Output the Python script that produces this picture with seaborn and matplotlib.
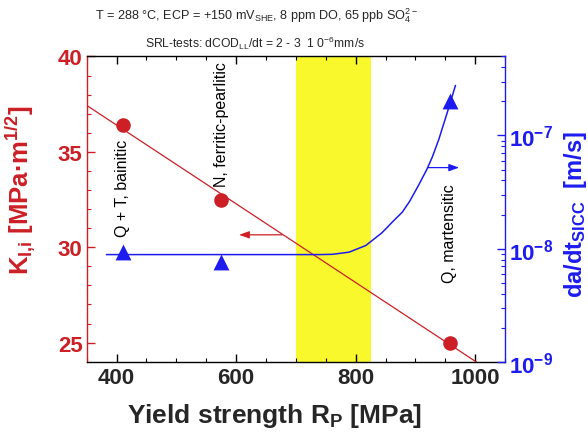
import numpy as np
import pandas as pd
import matplotlib
matplotlib.use("Agg")
import matplotlib.pyplot as plt
import seaborn as sns

# ---- data ----
yield_strength = [410, 575, 957]            # MPa
k_values = [36.4, 32.5, 25.0]               # K_I,i [MPa m^1/2]
rate_values = [9.35e-9, 7.6e-9, 2.0e-7]     # da/dt_SICC [m/s]
microstructure = ["Q + T, bainitic", "N, ferritic-pearlitic", "Q, martensitic"]
label_y = [30.6, 33.2, 28.2]

curve_x = [383, 500, 600, 700, 740, 761, 789, 817, 825, 844, 861, 878, 890,
           905, 919, 928, 939, 953, 967]
curve_y = [8.85e-9, 8.85e-9, 8.85e-9, 8.85e-9, 8.85e-9, 8.9e-9, 9.3e-9, 1.065e-8,
           1.15e-8, 1.38e-8, 1.71e-8, 2.10e-8, 2.6e-8, 3.61e-8, 5.0e-8,
           6.4e-8, 9.2e-8, 1.58e-7, 2.77e-7]

band = [700, 825]
fit_range = [352, 1020]

RED = "#cc1f26"
BLUE = "#1c1cf0"
YELLOW = "#f8f82c"

sns.set_theme(style="ticks")
plt.rcParams['font.family'] = ['Liberation Sans', 'DejaVu Sans']
plt.rcParams['mathtext.default'] = 'regular'

fig = plt.figure(figsize=(5.88, 4.35), dpi=100)
ax = fig.add_axes([0.1474, 0.1662, 0.859 - 0.1474, 0.868 - 0.1662])
ax2 = ax.twinx()

df = pd.DataFrame({"Rp": yield_strength, "K": k_values, "rate": rate_values})

ax.axvspan(band[0], band[1], color=YELLOW, lw=0, zorder=0)

coef = np.polyfit(yield_strength, k_values, 1)
fx = np.array(fit_range, dtype=float)
sns.lineplot(x=fx, y=np.polyval(coef, fx), ax=ax, color=RED, lw=0.9, zorder=3)
sns.scatterplot(data=df, x="Rp", y="K", ax=ax, color=RED, s=110, marker="o",
                edgecolor=RED, linewidth=0, zorder=4)

sns.lineplot(x=curve_x, y=curve_y, ax=ax2, color=BLUE, lw=1.1, sort=False,
             estimator=None, zorder=3)
sns.scatterplot(data=df, x="Rp", y="rate", ax=ax2, color=BLUE, s=130, marker="^",
                edgecolor=BLUE, linewidth=0, zorder=4)

for xv, yv, t in zip(yield_strength, label_y, microstructure):
    ax.text(xv, yv, t, rotation=90, ha="center", va="bottom", fontsize=11.5,
            color="black", zorder=5)

ax.annotate("", xy=(605, 30.65), xytext=(677, 30.65),
            arrowprops=dict(arrowstyle="-|>,head_length=0.5,head_width=0.18",
                            color=RED, lw=0.9, shrinkA=0, shrinkB=0))
ax2.annotate("", xy=(973, 5.2e-8), xytext=(921, 5.2e-8),
             arrowprops=dict(arrowstyle="-|>,head_length=0.5,head_width=0.18",
                             color=BLUE, lw=0.9, shrinkA=0, shrinkB=0))

ax.set_xlim(350, 1050)
ax.set_ylim(24, 40)
ax2.set_yscale("log")
ax2.set_ylim(1e-9, 5e-7)

ax.set_xticks([400, 600, 800, 1000])
ax.set_xticks(np.arange(350, 1051, 50), minor=True)
ax.set_yticks([25, 30, 35, 40])
ax.set_yticks(np.arange(24, 41, 1), minor=True)
ax.set_xticklabels(["400", "600", "800", "1000"], fontsize=16, fontweight="bold")
ax.set_yticklabels(["25", "30", "35", "40"], fontsize=16, fontweight="bold", color=RED)
ax2.set_yticks([1e-9, 1e-8, 1e-7])
ax2.set_yticklabels([r"10$^{-9}$", r"10$^{-8}$", r"10$^{-7}$"], fontsize=16,
                    fontweight="bold", color=BLUE)

ax.tick_params(axis="x", which="both", direction="in", top=True, color="black", pad=4)
ax.tick_params(axis="x", which="major", length=6, width=1)
ax.tick_params(axis="x", which="minor", length=3, width=0.8)
ax.tick_params(axis="y", which="both", direction="in", color=RED, pad=3)
ax.tick_params(axis="y", which="major", length=6, width=1)
ax.tick_params(axis="y", which="minor", length=3, width=0.8)
ax2.tick_params(axis="y", which="both", direction="in", color=BLUE, pad=3)
ax2.tick_params(axis="y", which="major", length=6, width=1)
ax2.tick_params(axis="y", which="minor", length=3, width=0.8)
ax2.yaxis.set_minor_formatter(matplotlib.ticker.NullFormatter())

for s in ["top", "bottom"]:
    ax.spines[s].set_color("black")
    ax.spines[s].set_linewidth(1)
ax.spines["left"].set_color(RED)
ax.spines["right"].set_visible(False)
for s in ["top", "bottom", "left"]:
    ax2.spines[s].set_visible(False)
ax2.spines["right"].set_color(BLUE)
ax2.spines["right"].set_linewidth(1)
ax.spines["left"].set_linewidth(1)

ax.set_xlabel(r"Yield strength R$_{P}$ [MPa]", fontsize=19, fontweight="bold")
ax.xaxis.set_label_coords(0.45, -0.128)
ax.set_ylabel(r"K$_{I{,}i}$ [MPa·m$^{1/2}$]", fontsize=18.5, fontweight="bold", color=RED)
ax.yaxis.set_label_coords(-0.117, 0.565)
ax2.set_ylabel(r"da/dt$_{SICC}$  [m/s]", fontsize=17, fontweight="bold", color=BLUE)
ax2.yaxis.set_label_coords(1.136, 0.484)

fig.text(0.437, 1 - 16 / 435,
         r"T = 288 °C, ECP = +150 mV$_{SHE}$, 8 ppm DO, 65 ppb SO$_{4}^{2-}$",
         ha="center", va="center", fontsize=9.1)
fig.text(0.434, 1 - 43 / 435,
         r"SRL-tests: dCOD$_{LL}$/dt = 2 - 3  1 0$^{-6}$mm/s",
         ha="center", va="center", fontsize=8.7)

ax.set_zorder(1)
ax2.set_zorder(2)
ax2.patch.set_visible(False)

fig.savefig("out.png", dpi=100)
